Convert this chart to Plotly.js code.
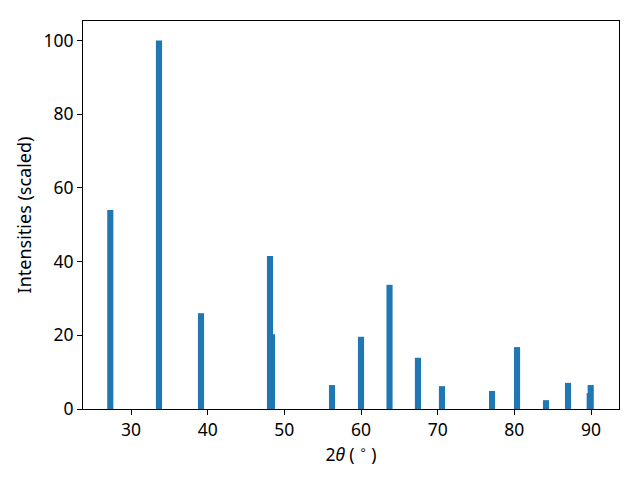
<!DOCTYPE html>
<html>
<head>
<meta charset="utf-8">
<script src="https://cdn.plot.ly/plotly-3.0.1.min.js"></script>
<style>html,body{margin:0;padding:0;background:#fff;}#chart{width:640px;height:480px;}</style>
</head>
<body>
<div id="chart"></div>
<script>
const twoTheta = [27.3, 33.65, 39.13, 48.13, 48.39, 56.22, 60.0, 63.72, 67.43, 70.56, 77.09, 80.35, 84.13, 87.0, 89.83, 89.96];
const intensity = [54.0, 100.0, 26.0, 41.5, 20.3, 6.5, 19.6, 33.7, 13.9, 6.2, 4.9, 16.8, 2.4, 7.1, 4.3, 6.5];

const fontFam = 'Noto Sans, DejaVu Sans, sans-serif';
const trace = {
  type: 'bar',
  x: twoTheta,
  y: intensity,
  width: twoTheta.map(() => 0.8),
  marker: {color: '#1f77b4', line: {width: 0}},
  hoverinfo: 'x+y'
};
const axisCommon = {
  showline: true, mirror: true, linecolor: '#000', linewidth: 1,
  ticks: 'outside', ticklen: 5, tickwidth: 1, tickcolor: '#000',
  showgrid: false, zeroline: false,
  tickfont: {family: fontFam, size: 17.5, color: '#000'}
};
const layout = {
  width: 640, height: 480,
  margin: {l: 83, r: 21, t: 21, b: 71},
  paper_bgcolor: '#fff', plot_bgcolor: '#fff',
  barmode: 'overlay',
  showlegend: false,
  xaxis: Object.assign({}, axisCommon, {
    range: [23.74, 93.65], tickvals: [30, 40, 50, 60, 70, 80, 90],
    title: {text: '2<i>θ</i> ( <sup>∘</sup> )', font: {family: fontFam, size: 17.5, color: '#000'}, standoff: 5}
  }),
  yaxis: Object.assign({}, axisCommon, {
    range: [0, 105.3], tickvals: [0, 20, 40, 60, 80, 100],
    title: {text: 'Intensities (scaled)', font: {family: fontFam, size: 18, color: '#000'}, standoff: 7}
  })
};
Plotly.newPlot('chart', [trace], layout, {displayModeBar: false, staticPlot: true});
</script>
</body>
</html>
